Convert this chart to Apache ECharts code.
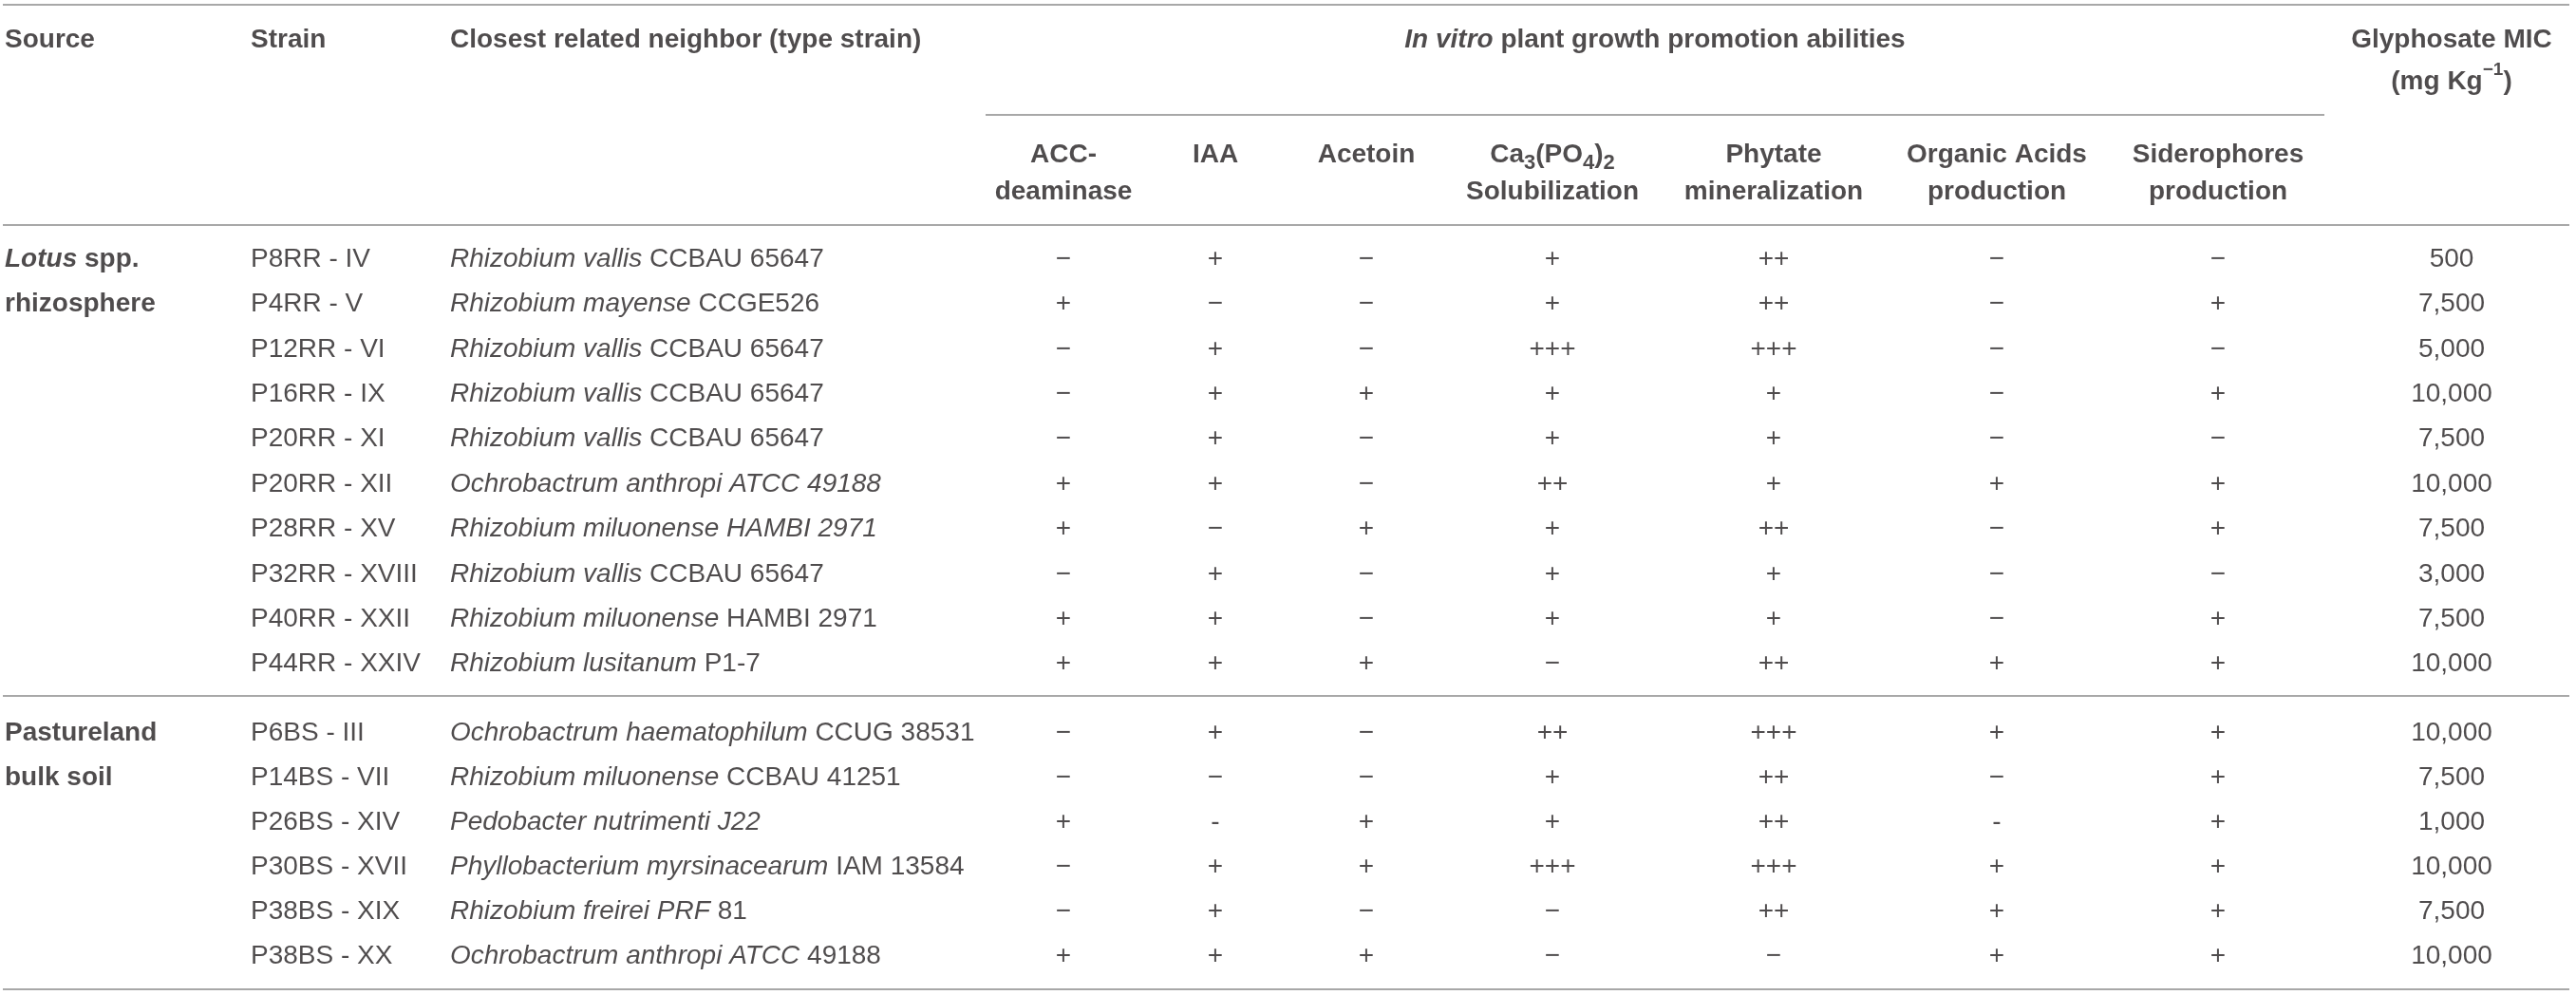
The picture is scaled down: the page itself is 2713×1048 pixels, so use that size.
<!DOCTYPE html>
<html>
<head>
<meta charset="utf-8">
<script src="https://cdn.jsdelivr.net/npm/echarts@6/dist/echarts.min.js"></script>
<style>html,body{margin:0;padding:0;background:#fff}#c{width:2713px;height:1048px}</style>
</head>
<body>
<div id="c"></div>
<script>
// ---------------- data ----------------
const sourceLines = [['Lotus spp.', 'rhizosphere'], ['Pastureland', 'bulk soil']];
const sourceItalicWord = ['Lotus', ''];
const groupSizes = [10, 6];

const strains = ['P8RR - IV','P4RR - V','P12RR - VI','P16RR - IX','P20RR - XI','P20RR - XII','P28RR - XV','P32RR - XVIII','P40RR - XXII','P44RR - XXIV',
                 'P6BS - III','P14BS - VII','P26BS - XIV','P30BS - XVII','P38BS - XIX','P38BS - XX'];
const speciesItalic = ['Rhizobium vallis','Rhizobium mayense','Rhizobium vallis','Rhizobium vallis','Rhizobium vallis',
                       'Ochrobactrum anthropi ATCC 49188','Rhizobium miluonense HAMBI 2971','Rhizobium vallis','Rhizobium miluonense','Rhizobium lusitanum',
                       'Ochrobactrum haematophilum','Rhizobium miluonense','Pedobacter nutrimenti J22','Phyllobacterium myrsinacearum','Rhizobium freirei PRF','Ochrobactrum anthropi ATCC'];
const speciesRoman = ['CCBAU 65647','CCGE526','CCBAU 65647','CCBAU 65647','CCBAU 65647',
                      '','','CCBAU 65647','HAMBI 2971','P1-7',
                      'CCUG 38531','CCBAU 41251','','IAM 13584','81','49188'];

const headerMain = ['Source', 'Strain', 'Closest related neighbor (type strain)', 'In vitro plant growth promotion abilities', 'Glyphosate MIC (mg Kg−1)'];
const traitNames = ['ACC-\ndeaminase', 'IAA', 'Acetoin', 'Ca3(PO4)2\nSolubilization', 'Phytate\nmineralization', 'Organic Acids\nproduction', 'Siderophores\nproduction'];

const M = '\u2212';
const acc     = [M,'+',M,M,M,'+','+',M,'+','+',  M,M,'+',M,M,'+'];
const iaa     = ['+',M,'+','+','+','+',M,'+','+','+',  '+',M,'-','+','+','+'];
const acetoin = [M,M,M,'+',M,M,'+',M,M,'+',  M,M,'+','+',M,'+'];
const caP     = ['+','+','+++','+','+','++','+','+','+',M,  '++','+','+','+++',M,M];
const phytate = ['++','++','+++','+','+','+','++','+','+','++',  '+++','++','++','+++','++',M];
const organic = [M,M,M,M,M,'+',M,M,M,'+',  '+',M,'-','+','+','+'];
const sidero  = [M,'+',M,'+',M,'+','+',M,'+','+',  '+','+','+','+','+','+'];
const mic     = [500,7500,5000,10000,7500,10000,7500,3000,7500,10000,  10000,7500,1000,10000,7500,10000];
const traits = [acc, iaa, acetoin, caP, phytate, organic, sidero];

// ---------------- layout ----------------
const W = 2713, H = 1048;
const FONT = "'Liberation Sans', Arial, Helvetica, sans-serif";
const TXT = '#231f20';
const FS = 28;
const colX = { source: 5, strain: 264, species: 474, traits: [1120, 1280, 1439, 1635, 1868, 2103, 2336], promo: 1743, mic: 2582 };
const gridBoxes = [ {top: 4.75, height: 237}, {top: 249.3, height: 474}, {top: 748.5, height: 282} ];
const rules = [ {y: 5, x1: 3, x2: 2706}, {y: 121, x1: 1038, x2: 2448}, {y: 237, x1: 3, x2: 2706}, {y: 733, x1: 3, x2: 2706}, {y: 1042, x1: 3, x2: 2706} ];
const RULE_COLOR = '#a8a8a8';

const RICH = {
  i:   { fontFamily: FONT, fontSize: FS, fontStyle: 'italic', fontWeight: 'normal', color: TXT },
  r:   { fontFamily: FONT, fontSize: FS, fontStyle: 'normal', fontWeight: 'normal', color: TXT },
  b:   { fontFamily: FONT, fontSize: FS, fontStyle: 'normal', fontWeight: 'bold', color: TXT },
  bi:  { fontFamily: FONT, fontSize: FS, fontStyle: 'italic', fontWeight: 'bold', color: TXT },
  sub: { fontFamily: FONT, fontSize: 22, fontWeight: 'bold', color: TXT, lineHeight: 25, verticalAlign: 'bottom' },
  sup: { fontFamily: FONT, fontSize: 19, fontWeight: 'bold', color: TXT, lineHeight: 37, verticalAlign: 'top' }
};

// ---------------- helpers ----------------
function fmtHeader(t) {
  if (t.indexOf('In vitro') === 0) return '{bi|In vitro}' + t.slice(8);
  if (t.indexOf('(mg Kg') >= 0) return t.replace(' (mg Kg−1)', '\n(mg Kg{sup|−1})');
  return t;
}
function fmtTrait(t) {
  return t.replace(/Ca3\(PO4\)2/, 'Ca{sub|3}(PO{sub|4}){sub|2}');
}
function fmtSource(g) {
  const lines = sourceLines[g].slice();
  const w = sourceItalicWord[g];
  if (w && lines[0].indexOf(w) === 0) lines[0] = '{bi|' + w + '}' + lines[0].slice(w.length);
  return lines.join('\n');
}
function fmtSpecies(k) {
  let s = '{i|' + speciesItalic[k] + '}';
  if (speciesRoman[k]) s += ' {r|' + speciesRoman[k] + '}';
  return s;
}
function fmtNum(v) { return v.toLocaleString('en-US'); }

function textSeries(gi, n, x, textFn, extra) {
  const data = [];
  for (let i = 0; i < n; i++) data.push([x, i]);
  return {
    type: 'scatter', xAxisIndex: gi, yAxisIndex: gi, symbolSize: 0, silent: true, animation: false,
    data: data,
    label: Object.assign({
      show: true, position: 'inside', align: 'center', verticalAlign: 'middle',
      fontFamily: FONT, fontSize: FS, color: TXT, fontWeight: 'normal',
      formatter: p => textFn(p.dataIndex), rich: RICH
    }, extra || {})
  };
}

// ---------------- build ----------------
const grid = gridBoxes.map(b => ({ left: 0, right: 0, top: b.top, height: b.height, containLabel: false }));
const xAxis = gridBoxes.map((b, i) => ({ gridIndex: i, type: 'value', min: 0, max: W, show: false }));
const yAxis = [
  { gridIndex: 0, type: 'category', data: ['main', 'sub'], inverse: true, show: false },
  { gridIndex: 1, type: 'category', data: strains.slice(0, groupSizes[0]), inverse: true, show: false },
  { gridIndex: 2, type: 'category', data: strains.slice(groupSizes[0]), inverse: true, show: false }
];

const series = [];
// header row 1
const mainX = [colX.source, colX.strain, colX.species, colX.promo, colX.mic];
const mainAlign = ['left', 'left', 'left', 'center', 'center'];
series.push({
  type: 'scatter', xAxisIndex: 0, yAxisIndex: 0, symbolSize: 0, silent: true, animation: false,
  data: headerMain.map((t, i) => ({ value: [mainX[i], 0], label: { align: mainAlign[i] } })),
  label: { show: true, position: 'inside', verticalAlign: 'top', offset: [0, -44], lineHeight: 44,
           fontFamily: FONT, fontSize: FS, fontWeight: 'bold', color: TXT, rich: RICH,
           formatter: p => fmtHeader(headerMain[p.dataIndex]) }
});
// header row 2
series.push({
  type: 'scatter', xAxisIndex: 0, yAxisIndex: 0, symbolSize: 0, silent: true, animation: false,
  data: traitNames.map((t, i) => [colX.traits[i], 1]),
  label: { show: true, position: 'inside', align: 'center', verticalAlign: 'top', offset: [0, -39], lineHeight: 39,
           fontFamily: FONT, fontSize: FS, fontWeight: 'bold', color: TXT, rich: RICH,
           formatter: p => fmtTrait(traitNames[p.dataIndex]) }
});

// body groups
let start = 0;
groupSizes.forEach((n, g) => {
  const gi = g + 1, s0 = start;
  // source (spans first two rows)
  series.push(textSeries(gi, 1, colX.source, () => fmtSource(g),
    { align: 'left', verticalAlign: 'top', lineHeight: 47, offset: [0, -23.5], fontWeight: 'bold' }));
  series.push(textSeries(gi, n, colX.strain, i => strains[s0 + i], { align: 'left' }));
  series.push(textSeries(gi, n, colX.species, i => fmtSpecies(s0 + i), { align: 'left' }));
  traits.forEach((arr, t) => {
    series.push(textSeries(gi, n, colX.traits[t], i => arr[s0 + i]));
  });
  series.push(textSeries(gi, n, colX.mic, i => fmtNum(mic[s0 + i])));
  start += n;
});

const chart = echarts.init(document.getElementById('c'), null, { renderer: 'canvas', width: W, height: H });
chart.setOption({
  backgroundColor: '#ffffff',
  animation: false,
  grid: grid, xAxis: xAxis, yAxis: yAxis, series: series,
  graphic: rules.map(r => ({
    type: 'line', silent: true,
    shape: { x1: r.x1, y1: r.y, x2: r.x2, y2: r.y },
    style: { stroke: RULE_COLOR, lineWidth: 2 }
  }))
});
</script>
</body>
</html>
